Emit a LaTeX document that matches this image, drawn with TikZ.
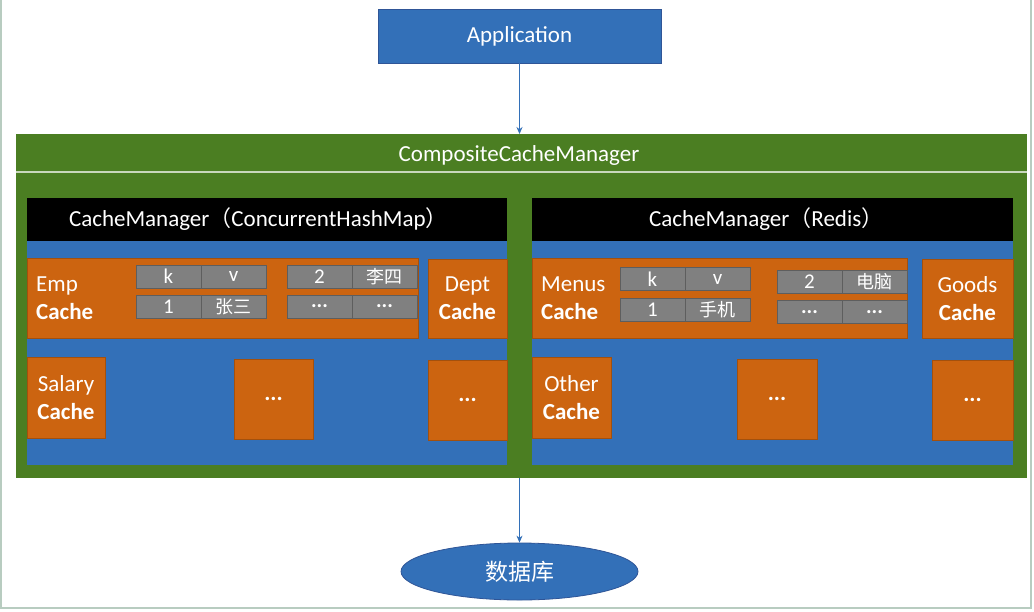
\documentclass[tikz,border=0pt]{standalone}
\usepackage{fontspec}
\setmainfont{Carlito}
\newfontfamily\cjk{Noto Sans CJK SC}
\usetikzlibrary{arrows.meta,shapes.geometric}
\definecolor{cblue}{HTML}{3370B8}
\definecolor{cblueb}{HTML}{2F5597}
\definecolor{cgreen}{HTML}{4B7E22}
\definecolor{corange}{HTML}{CC6410}
\definecolor{cgray}{HTML}{808080}
\definecolor{cgrayb}{HTML}{5E5E5E}
\definecolor{cframe}{HTML}{B8CCC0}
\begin{document}
\begin{tikzpicture}[x=1pt,y=-1pt,
  rbox/.style={inner sep=0pt, outer sep=0pt, text=white, font=\fontsize{23}{28}\selectfont, align=center},
  orbox/.style={rbox, fill=corange, draw=corange!80!black, line width=0.6pt},
  cell/.style={rbox, fill=cgray, draw=cgrayb, line width=0.8pt, minimum width=65, minimum height=23, font=\fontsize{21}{22}\selectfont},
  lbl/.style={inner sep=0pt, text=white, font=\fontsize{23}{28}\selectfont, align=left, anchor=west},
  arr/.style={draw=cblue, line width=0.8pt, -{Stealth[length=7pt,width=6pt]}},
  cj/.style={font=\cjk\fontsize{18}{22}\selectfont}
]
\useasboundingbox (0,0) rectangle (1034,611);
\fill[white] (0,0) rectangle (1034,611);
\draw[cframe, line width=2pt] (1,0) -- (1,608) -- (1031,608) -- (1031,0);

% Application
\node[rbox, fill=cblue, draw=cblueb, line width=0.8pt, minimum width=283, minimum height=54] (app) at (519.5,36) {Application};

% Composite cache manager
\node[rbox, fill=cgreen, minimum width=1011, minimum height=344] (ccm) at (521.5,306) {};
\node[rbox] (ccmt) at (519,155) {CompositeCacheManager};
\coordinate (hl) at (16,172);
\coordinate (hr) at (1027,172);
\draw[white!70!cgreen, line width=1.5pt] (hl) -- (hr);

% left manager
\node[rbox, fill=black, minimum width=480, minimum height=43] (lhead) at (267,219.5) {};
\node[rbox, anchor=west] (lheadt) at (69,219.5) {CacheManager{\cjk\fontsize{22}{28}\selectfont （}ConcurrentHashMap{\cjk\fontsize{22}{28}\selectfont ）}};
\node[rbox, fill=cblue, minimum width=480, minimum height=224] (lbody) at (267,353) {};

% right manager
\node[rbox, fill=black, minimum width=481, minimum height=43] (rhead) at (772.5,219.5) {};
\node[rbox, anchor=west] (rheadt) at (649,219.5) {CacheManager{\cjk\fontsize{22}{28}\selectfont （}Redis{\cjk\fontsize{22}{28}\selectfont ）}};
\node[rbox, fill=cblue, minimum width=481, minimum height=224] (rbody) at (772.5,353) {};

% Emp cache
\node[orbox, minimum width=391, minimum height=80] (emp) at (222.5,298) {};
\node[lbl] (empt) at (36,298) {Emp\\\textbf{Cache}};
\node[cell] (ek) at (168.5,276.5) {k};
\node[cell] (ev) at (233.5,276.5) {v};
\node[cell] (e1) at (168.5,306.5) {1};
\node[cell, cj] (e1v) at (233.5,306.5) {张三};
\node[cell] (e2) at (319.5,276.5) {2};
\node[cell, cj] (e2v) at (384.5,276.5) {李四};
\node[cell] (e3) at (319.5,306.5) {\textbf{...}};
\node[cell] (e3v) at (384.5,306.5) {\textbf{...}};

\node[orbox, minimum width=79, minimum height=79] (dept) at (467.5,298.5) {Dept\\\textbf{Cache}};
\node[orbox, minimum width=78, minimum height=81] (sal) at (66,397.5) {Salary\\\textbf{Cache}};
\node[orbox, minimum width=79, minimum height=80] (ld1) at (273.5,399) {\textbf{...}};
\node[orbox, minimum width=79, minimum height=80] (ld2) at (467.5,400) {\textbf{...}};

% Menus cache
\node[orbox, minimum width=375, minimum height=80] (men) at (719.5,298) {};
\node[lbl] (ment) at (541,298) {Menus\\\textbf{Cache}};
\node[cell] (mk) at (652.5,279) {k};
\node[cell] (mv) at (717.5,279) {v};
\node[cell] (m1) at (652.5,309.5) {1};
\node[cell, cj] (m1v) at (717.5,309.5) {手机};
\node[cell] (m2) at (809.5,281.5) {2};
\node[cell, cj] (m2v) at (874.5,281.5) {电脑};
\node[cell] (m3) at (809.5,312) {\textbf{...}};
\node[cell] (m3v) at (874.5,312) {\textbf{...}};

\node[orbox, minimum width=91, minimum height=79] (goods) at (967.5,298.5) {Goods\\\textbf{Cache}};
\node[orbox, minimum width=79, minimum height=81] (oth) at (571.5,397.5) {Other\\\textbf{Cache}};
\node[orbox, minimum width=80, minimum height=80] (rd1) at (777,399) {\textbf{...}};
\node[orbox, minimum width=81, minimum height=80] (rd2) at (972.5,400) {\textbf{...}};

% database
\node[ellipse, fill=cblue, draw=cblueb, line width=0.8pt, minimum width=237, minimum height=57, inner sep=0pt, text=white, font=\cjk\fontsize{23}{26}\selectfont] (db) at (519.5,571.5) {数据库};

\draw[arr] (app.south) -- (app.south |- ccm.north);
\draw[arr] (db.north |- ccm.south) -- (db.north);
\end{tikzpicture}
\end{document}
